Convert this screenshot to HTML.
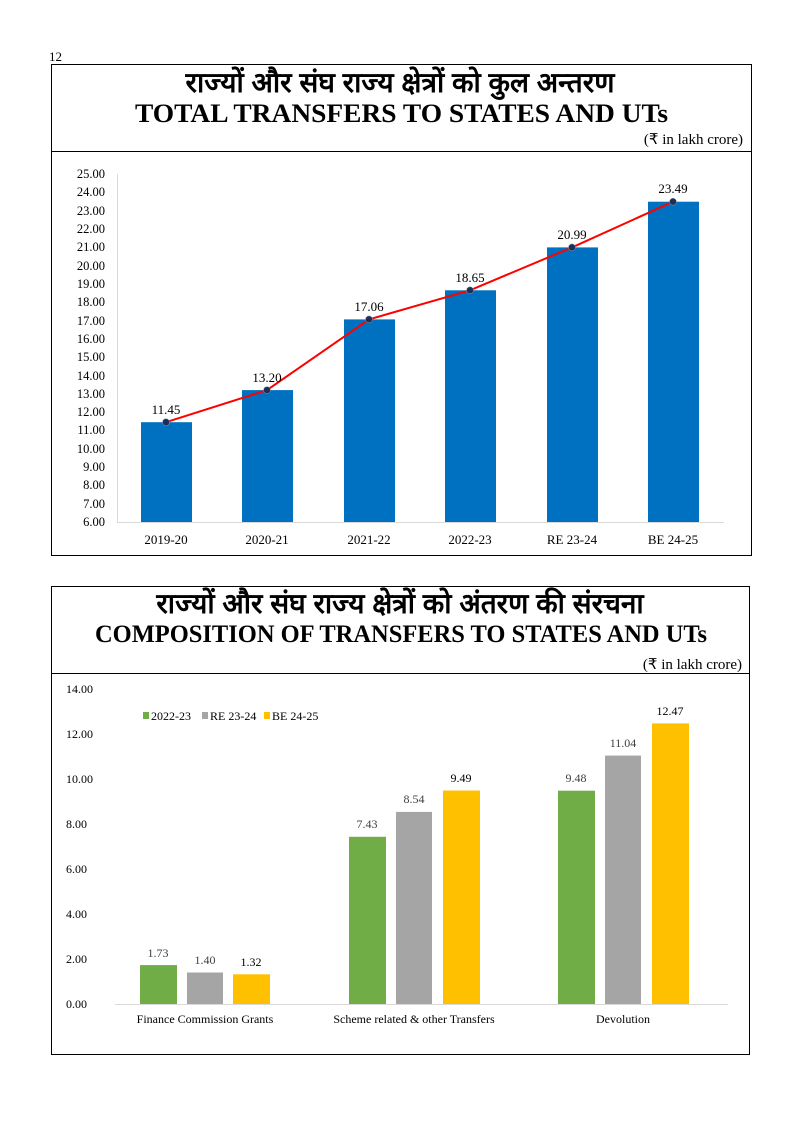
<!DOCTYPE html>
<html><head><meta charset="utf-8"><style>
body{margin:0;background:#fff;}
svg{display:block;}
text{font-family:"Liberation Serif",serif;}
.hi{font-family:"Liberation Sans","Noto Sans CJK SC",sans-serif;font-weight:bold;}
</style></head><body>
<svg width="800" height="1131" viewBox="0 0 800 1131" xmlns="http://www.w3.org/2000/svg">
<text x="49" y="61" font-size="13">12</text>
<!-- Top chart -->
<rect x="51.5" y="64.5" width="700" height="491" fill="none" stroke="#000" stroke-width="1"/>
<line x1="51" y1="151.5" x2="751" y2="151.5" stroke="#000"/>
<text class="hi" x="400" y="92" font-size="28" text-anchor="middle">राज्यों और संघ राज्य क्षेत्रों को कुल अन्तरण</text>
<text x="135" y="122" font-size="26" font-weight="bold" textLength="533" lengthAdjust="spacingAndGlyphs">TOTAL TRANSFERS TO STATES AND UTs</text>
<text x="743" y="144" font-size="15" text-anchor="end">(₹ in lakh crore)</text>
<g font-size="12.5" text-anchor="end">
<text x="105" y="178">25.00</text><text x="105" y="196">24.00</text><text x="105" y="215">23.00</text><text x="105" y="233">22.00</text><text x="105" y="251">21.00</text><text x="105" y="270">20.00</text><text x="105" y="288">19.00</text><text x="105" y="306">18.00</text><text x="105" y="325">17.00</text><text x="105" y="343">16.00</text><text x="105" y="361">15.00</text><text x="105" y="380">14.00</text><text x="105" y="398">13.00</text><text x="105" y="416">12.00</text><text x="105" y="434">11.00</text><text x="105" y="453">10.00</text><text x="105" y="471">9.00</text><text x="105" y="489">8.00</text><text x="105" y="508">7.00</text><text x="105" y="526">6.00</text>
</g>
<line x1="117.5" y1="174" x2="117.5" y2="522" stroke="#d9d9d9"/>
<line x1="117" y1="522.5" x2="724" y2="522.5" stroke="#d9d9d9"/>
<g fill="#0070c0">
<rect x="141" y="422.2" width="51" height="99.8"/>
<rect x="242" y="390.1" width="51" height="131.9"/>
<rect x="344" y="319.4" width="51" height="202.6"/>
<rect x="445" y="290.3" width="51" height="231.7"/>
<rect x="547" y="247.4" width="51" height="274.6"/>
<rect x="648" y="201.7" width="51" height="320.3"/>
</g>
<polyline points="166,422.2 267,390.1 369,319.4 470,290.3 572,247.4 673,201.7" fill="none" stroke="#ff0000" stroke-width="2"/>
<g fill="#1f2d5a" stroke="#8aa" stroke-width="0.5">
<circle cx="166" cy="422.2" r="3.5"/><circle cx="267" cy="390.1" r="3.5"/><circle cx="369" cy="319.4" r="3.5"/><circle cx="470" cy="290.3" r="3.5"/><circle cx="572" cy="247.4" r="3.5"/><circle cx="673" cy="201.7" r="3.5"/>
</g>
<g font-size="13" text-anchor="middle">
<text x="166" y="414">11.45</text><text x="267" y="382">13.20</text><text x="369" y="311">17.06</text><text x="470" y="282">18.65</text><text x="572" y="239">20.99</text><text x="673" y="193">23.49</text>
<text x="166" y="544">2019-20</text><text x="267" y="544">2020-21</text><text x="369" y="544">2021-22</text><text x="470" y="544">2022-23</text><text x="572" y="544">RE 23-24</text><text x="673" y="544">BE 24-25</text>
</g>
<!-- Bottom chart -->
<rect x="51.5" y="586.5" width="698" height="468" fill="none" stroke="#000" stroke-width="1"/>
<line x1="51" y1="673.5" x2="749" y2="673.5" stroke="#000"/>
<text class="hi" x="400" y="613" font-size="28" text-anchor="middle">राज्यों और संघ राज्य क्षेत्रों को अंतरण की संरचना</text>
<text x="95" y="642" font-size="25" font-weight="bold" textLength="612" lengthAdjust="spacingAndGlyphs">COMPOSITION OF TRANSFERS TO STATES AND UTs</text>
<text x="742" y="669" font-size="15" text-anchor="end">(₹ in lakh crore)</text>
<g font-size="12" text-anchor="start">
<text x="66" y="693">14.00</text><text x="66" y="738">12.00</text><text x="66" y="783">10.00</text><text x="66" y="828">8.00</text><text x="66" y="873">6.00</text><text x="66" y="918">4.00</text><text x="66" y="963">2.00</text><text x="66" y="1008">0.00</text>
</g>
<line x1="115" y1="1004.5" x2="728" y2="1004.5" stroke="#d9d9d9"/>
<g font-size="12">
<rect x="143" y="712" width="6" height="7" fill="#70ad47"/><text x="151" y="720">2022-23</text>
<rect x="202" y="712" width="6" height="7" fill="#a5a5a5"/><text x="210" y="720">RE 23-24</text>
<rect x="264" y="712" width="6" height="7" fill="#ffc000"/><text x="272" y="720">BE 24-25</text>
</g>
<g>
<rect x="140" y="965.1" width="37" height="38.9" fill="#70ad47"/>
<rect x="187" y="972.5" width="36" height="31.5" fill="#a5a5a5"/>
<rect x="233" y="974.3" width="37" height="29.7" fill="#ffc000"/>
<rect x="349" y="836.8" width="37" height="167.2" fill="#70ad47"/>
<rect x="396" y="811.9" width="36" height="192.1" fill="#a5a5a5"/>
<rect x="443" y="790.5" width="37" height="213.5" fill="#ffc000"/>
<rect x="558" y="790.7" width="37" height="213.3" fill="#70ad47"/>
<rect x="605" y="755.6" width="36" height="248.4" fill="#a5a5a5"/>
<rect x="652" y="723.4" width="37" height="280.6" fill="#ffc000"/>
</g>
<g font-size="12" text-anchor="middle">
<text x="158" y="957" fill="#404040">1.73</text><text x="205" y="964" fill="#404040">1.40</text><text x="251" y="966">1.32</text>
<text x="367" y="828" fill="#404040">7.43</text><text x="414" y="803" fill="#404040">8.54</text><text x="461" y="782">9.49</text>
<text x="576" y="782" fill="#404040">9.48</text><text x="623" y="747" fill="#404040">11.04</text><text x="670" y="715">12.47</text>
<text x="205" y="1023">Finance Commission Grants</text>
<text x="414" y="1023">Scheme related &amp; other Transfers</text>
<text x="623" y="1023">Devolution</text>
</g>
</svg>
</body></html>
